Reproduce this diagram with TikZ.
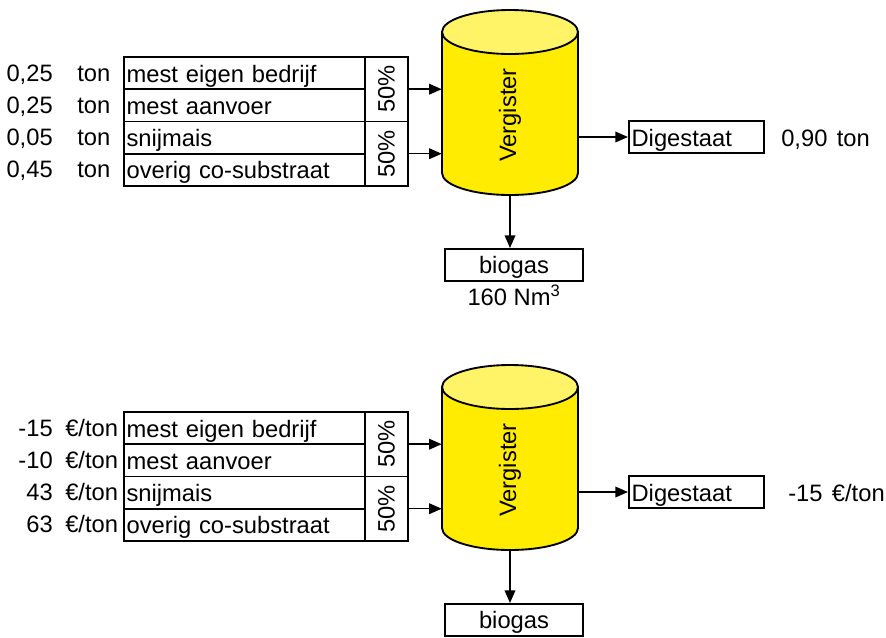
\documentclass[tikz,border=0pt]{standalone}
\usepackage{fontspec}
\setmainfont{Liberation Sans}
\usepackage{graphicx}
\usepackage{xcolor}
\usetikzlibrary{positioning,calc,arrows.meta}

\definecolor{vergbody}{RGB}{255,236,0}
\definecolor{vergtop}{RGB}{255,244,104}

\tikzset{
	lbl/.style={inner sep=0pt, text height=13.5pt, text depth=0pt},
	cell/.style={draw, line width=1.4pt, anchor=north west, minimum height=24.2pt, inner ysep=0pt, inner xsep=2pt, text width=176.75pt, align=left, text height=13.5pt, text depth=0pt},
	pct/.style={draw, line width=1.4pt, anchor=north west, minimum width=32.25pt, minimum height=48.4pt, inner sep=0pt},
	outbox/.style={draw, line width=1.4pt, minimum height=24pt, inner ysep=0pt, text height=13.5pt, text depth=0pt},
	flow/.style={line width=1.1pt, -{Triangle[length=9.5pt,width=8pt]}},
}

% inputs table, digester, digestate and biogas (one panel)
\newcommand{\vergpanel}{%
	\foreach \txt [count=\i] in {mest eigen bedrijf, mest aanvoer, snijmais, overig co-substraat}
		\node[cell] (r\i) at ({123},{56+32.25*(\i-1)}) {\txt};
	\node[pct] (p1) at (364,56) {\rotatebox{90}{50\%}};
	\node[pct] (p2) at (364,120.5) {\rotatebox{90}{50\%}};
	% vessel
	\filldraw[fill=vergbody, line width=1.4pt] (442,32) -- (442,173)
		arc[start angle=180, end angle=360, x radius=51pt, y radius=16.5pt] -- (578,32) -- cycle;
	\filldraw[fill=vergtop, line width=1.4pt] (510,32) ellipse[x radius=51pt, y radius=16.5pt];
	\node[minimum width=102pt, minimum height=138.75pt, inner sep=0pt] (verg) at (510,102.5) {};
	\node[rotate=90] (vlabel) at (510,115) {Vergister};
	% outputs
	\node[outbox, anchor=west, text width=97.25pt, inner xsep=2pt, align=left] (dig) at (628,137) {Digestaat};
	\node[outbox, anchor=north, minimum width=103.5pt] (bio) at (514,248) {biogas};
	\draw[flow] (p1.east) -- (p1.east -| verg.west);
	\draw[flow] (p2.east) -- (p2.east -| verg.west);
	\draw[flow] (dig.west -| verg.east) -- (dig.west);
	\draw[flow] (verg.south) -- (verg.south |- bio.north);
}

\begin{document}
\begin{tikzpicture}[x=0.75pt,y=-0.75pt,font=\fontsize{17.8}{20}\selectfont]
	\useasboundingbox (0,0) rectangle (886,637);

	% quantities
	\begin{scope}[name prefix=m-]
		\vergpanel
		\foreach \v [count=\i] in {{0,25},{0,25},{0,05},{0,45}} {
			\node[lbl, anchor=east] (val\i) at ({53},{72.1+32.25*(\i-1)}) {\v};
			\node[lbl, anchor=west] (unit\i) at ({77},{72.1+32.25*(\i-1)}) {ton};
		}
		\node[lbl, anchor=west] (digval) at (781,137) {0,90\hspace{7pt}ton};
		\node[lbl, anchor=base] (bioval) at (514,305) {160 Nm\textsuperscript{3}};
	\end{scope}

	% prices
	\begin{scope}[shift={(0,355)}, name prefix=p-]
		\vergpanel
		\foreach \v [count=\i] in {-15,-10,43,63} {
			\node[lbl, anchor=east] (val\i) at ({53},{72.1+32.25*(\i-1)}) {\v};
			\node[lbl, anchor=west] (unit\i) at ({65},{72.1+32.25*(\i-1)}) {€/ton};
		}
		\node[lbl, anchor=east] (digval) at (885,137) {-15\hspace{7pt}€/ton};
	\end{scope}
\end{tikzpicture}
\end{document}
